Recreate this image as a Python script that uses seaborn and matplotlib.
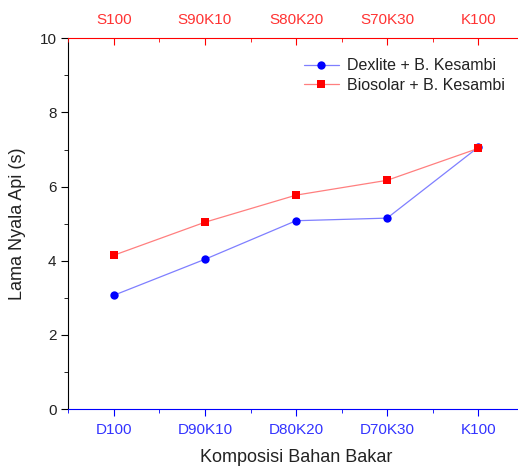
import matplotlib
matplotlib.use('Agg')
import matplotlib.pyplot as plt
from matplotlib.ticker import MultipleLocator
import seaborn as sns
import pandas as pd

bottom_labels = ['D100', 'D90K10', 'D80K20', 'D70K30', 'K100']
top_labels = ['S100', 'S90K10', 'S80K20', 'S70K30', 'K100']
dexlite = [3.07, 4.04, 5.08, 5.15, 7.06]
biosolar = [4.15, 5.04, 5.77, 6.17, 7.03]

pos = list(range(len(bottom_labels)))
df = pd.DataFrame({'pos': pos, 'dexlite': dexlite, 'biosolar': biosolar})

sns.set_style('white')
plt.rcParams['font.family'] = ['Liberation Sans', 'DejaVu Sans']

fig = plt.figure(figsize=(5.18, 4.67), dpi=100)
ax = fig.add_axes([0.132, 0.124, 0.879, 0.794])

sns.lineplot(x='pos', y='dexlite', data=df, ax=ax, color='#0000ff', marker='o',
             markersize=6, markeredgewidth=0, linewidth=0.9, label='Dexlite + B. Kesambi')
sns.lineplot(x='pos', y='biosolar', data=df, ax=ax, color='#ff0000', marker='s',
             markersize=5.5, markeredgewidth=0, linewidth=0.9, label='Biosolar + B. Kesambi')
ax.lines[0].set_color('#7f7fff')
ax.lines[0].set_markerfacecolor('#0000ff')
ax.lines[1].set_color('#ff7f7f')
ax.lines[1].set_markerfacecolor('#ff0000')

ax.set_xlim(-0.5, 4.5)
ax.set_ylim(0, 10)
ax.set_xticks(pos)
ax.set_xticklabels(bottom_labels, color='#3333ff', fontsize=11)
ax.xaxis.set_minor_locator(MultipleLocator(0.5))
ax.yaxis.set_major_locator(MultipleLocator(2))
ax.yaxis.set_minor_locator(MultipleLocator(1))
ax.tick_params(axis='y', which='both', direction='out', left=True, color='black',
               labelsize=11, labelcolor='#222222')
ax.tick_params(axis='y', which='major', length=5)
ax.tick_params(axis='y', which='minor', length=3)
ax.tick_params(axis='x', which='both', direction='out', bottom=True, color='#0000ff', pad=5)
ax.tick_params(axis='x', which='major', length=5)
ax.tick_params(axis='x', which='minor', length=3)
ax.spines['bottom'].set_color('#0000ff')
ax.spines['left'].set_color('black')
ax.spines['right'].set_visible(False)
ax.spines['top'].set_visible(False)
ax.set_xlabel('Komposisi Bahan Bakar', fontsize=13, color='#222222', labelpad=9)
ax.set_ylabel('Lama Nyala Api (s)', fontsize=13, color='#222222', labelpad=10)

ax2 = ax.twiny()
ax2.set_xlim(ax.get_xlim())
ax2.set_xticks(pos)
ax2.set_xticklabels(top_labels, color='#ff3333', fontsize=11)
ax2.xaxis.set_minor_locator(MultipleLocator(0.5))
ax2.tick_params(axis='x', which='both', direction='in', top=True, color='#ff0000', pad=8)
ax2.tick_params(axis='x', which='major', length=5)
ax2.tick_params(axis='x', which='minor', length=3)
for s in ['left', 'right', 'bottom']:
    ax2.spines[s].set_visible(False)
ax2.spines['top'].set_color('#ff0000')
ax2.spines['top'].set_visible(True)

leg = ax.legend(loc='upper right', bbox_to_anchor=(0.99, 0.985), frameon=False,
                fontsize=11.5, handlelength=2.2, handletextpad=0.5, labelspacing=0.3)
for t in leg.get_texts():
    t.set_color('#222222')

fig.savefig('out.png', dpi=100)
